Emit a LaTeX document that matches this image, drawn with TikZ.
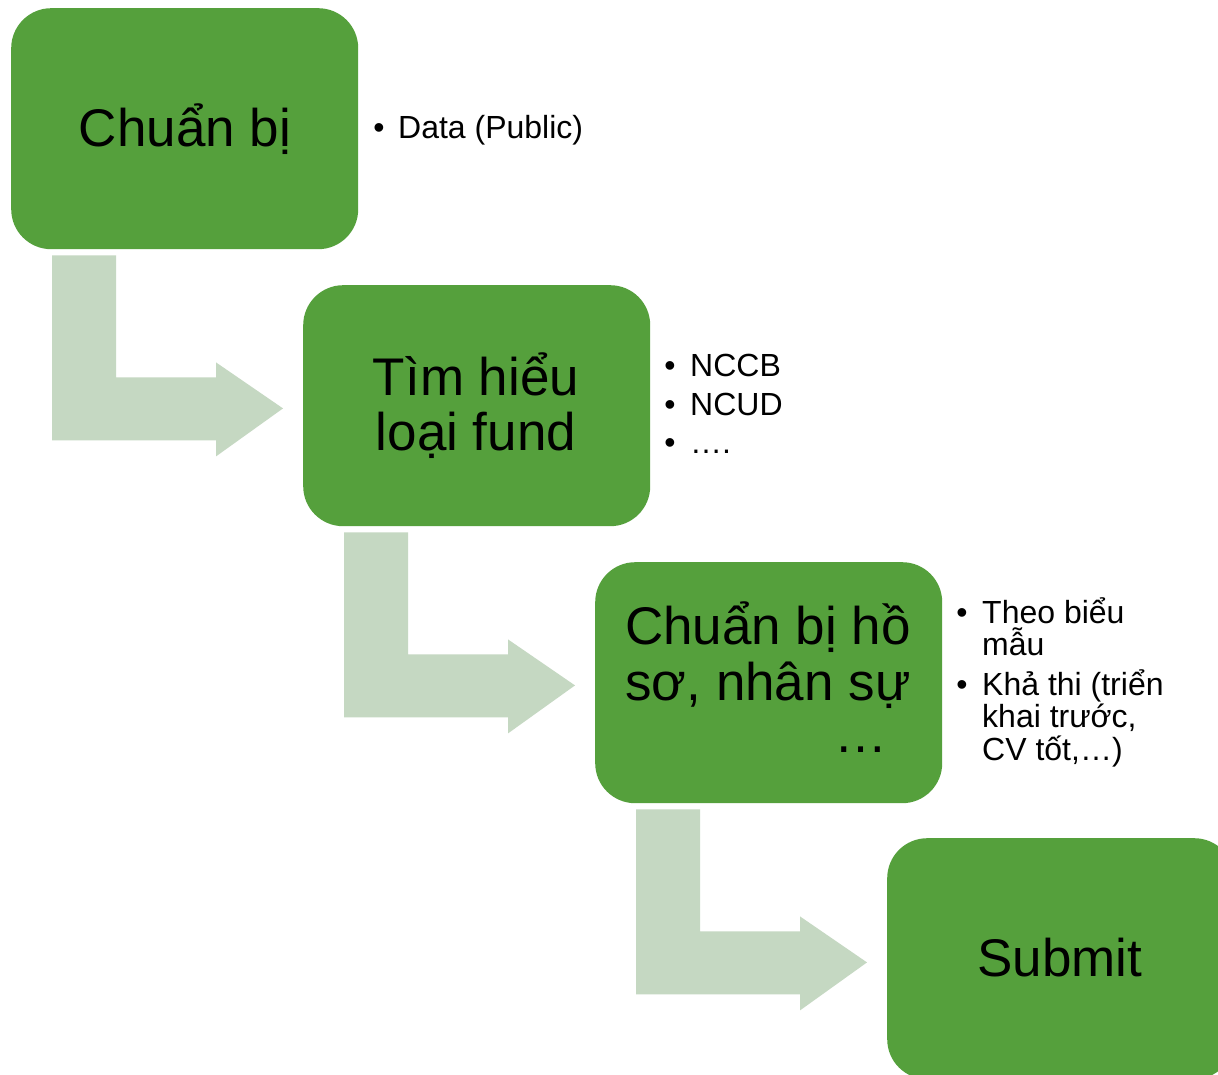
\documentclass[tikz,border=0pt]{standalone}
\usepackage{fontspec}
\setmainfont{Liberation Sans}
\definecolor{stepgreen}{HTML}{55A03C}
\definecolor{flowgreen}{HTML}{C5D8C2}
\tikzset{
  stepbox/.style={rectangle, rounded corners=40pt, fill=stepgreen, draw=none,
    minimum width=347pt, minimum height=241pt, inner sep=0pt, anchor=north west},
  bigtext/.style={inner sep=0pt, anchor=base, font=\fontsize{53}{55}\selectfont},
  listtext/.style={inner sep=0pt, anchor=base west, font=\fontsize{32}{34}\selectfont},
  bulletmark/.style={inner sep=0pt, anchor=base, font=\fontsize{32}{34}\selectfont},
  bentarrow/.pic={
    \fill[flowgreen] (41,6) -- (105,6) -- (105,128) -- (205,128) -- (205,113)
      -- (272,159) -- (205,207) -- (205,191) -- (41,191) -- cycle;
  }
}
\begin{document}
\begin{tikzpicture}[x=1pt,y=-1pt]
\useasboundingbox (0,0) rectangle (1218,1075);
\fill[white] (0,0) rectangle (1218,1075);
\clip (0,0) rectangle (1218,1075);

% process steps
\node[stepbox] (b1) at (11,8) {};
\node[stepbox] (b2) at (303,285) {};
\node[stepbox] (b3) at (595,562) {};
\node[stepbox] (b4) at (887,838) {};

% bent arrows leading from one step to the next
\pic at (b1.south west) {bentarrow};
\pic at (b2.south west) {bentarrow};
\pic at (b3.south west) {bentarrow};

% step titles
\node[bigtext] (t1) at (185,147) {Chuẩn bị};
\node[bigtext] (t2a) at (476,395) {Tìm hiểu};
\node[bigtext] (t2b) at (476,450) {loại fund};
\node[bigtext] (t3a) at (768,644) {Chuẩn bị hồ};
\node[bigtext] (t3b) at (768,700) {sơ, nhân sự};
\node[bigtext] (t3c) at (861,752) {…};
\node[bigtext] (t4) at (1060,976) {Submit};

% notes beside step 1
\node[bulletmark] (m1) at (379,139) {•};
\node[listtext] (n1) at (398,139) {Data (Public)};

% notes beside step 2
\node[bulletmark] (m2a) at (670,376) {•};
\node[listtext] (n2a) at (690,376) {NCCB};
\node[bulletmark] (m2b) at (670,415) {•};
\node[listtext] (n2b) at (690,415) {NCUD};
\node[bulletmark] (m2c) at (670,453) {•};
\node[listtext] (n2c) at (690,453) {….};

% notes beside step 3
\node[bulletmark] (m3a) at (962,623) {•};
\node[listtext] (n3a) at (982,623) {Theo biểu};
\node[listtext] (n3b) at (982,655) {mẫu};
\node[bulletmark] (m3b) at (962,695) {•};
\node[listtext] (n3c) at (982,695) {Khả thi (triển};
\node[listtext] (n3d) at (982,727) {khai trước,};
\node[listtext] (n3e) at (982,760) {CV tốt,…)};
\end{tikzpicture}
\end{document}
